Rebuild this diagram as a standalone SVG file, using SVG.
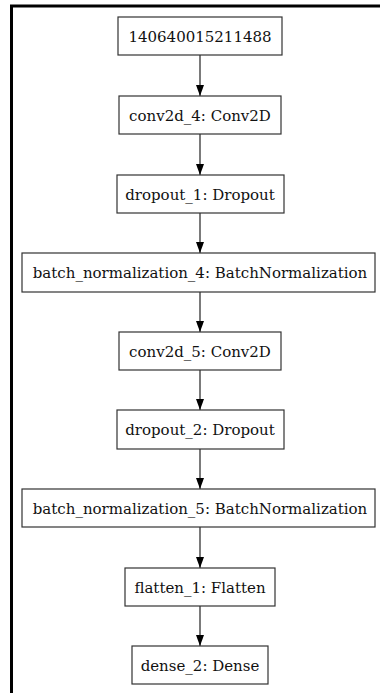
<svg xmlns="http://www.w3.org/2000/svg" width="380" height="693" viewBox="0 0 380 693">
<defs>
<marker id="ah" markerWidth="11" markerHeight="10" refX="11" refY="5" orient="auto" markerUnits="userSpaceOnUse">
<path d="M0,1 L11,5 L0,9 Z" fill="#000"/>
</marker>
<style>
.box{fill:#fff;stroke:#333;stroke-width:1.2}
.lbl{font-family:"DejaVu Serif","Liberation Serif",serif;font-size:15px;fill:#111;text-anchor:middle}
.edge{stroke:#222;stroke-width:1.2;fill:none;marker-end:url(#ah)}
</style>
</defs>
<rect width="380" height="693" fill="#fff"/>
<path d="M11.5,693 V6 H380" fill="none" stroke="#000" stroke-width="3"/>
<g id="connectors">
<line class="edge" x1="200" y1="55" x2="200" y2="96"/>
<line class="edge" x1="200" y1="134" x2="200" y2="175"/>
<line class="edge" x1="200" y1="213" x2="200" y2="253"/>
<line class="edge" x1="200" y1="292" x2="200" y2="332"/>
<line class="edge" x1="200" y1="370" x2="200" y2="410"/>
<line class="edge" x1="200" y1="449" x2="200" y2="489"/>
<line class="edge" x1="200" y1="527" x2="200" y2="568"/>
<line class="edge" x1="200" y1="606" x2="200" y2="646"/>
</g>
<g id="n140640015211488"><rect class="box" x="118" y="17" width="164" height="38"/><text class="lbl" x="200" y="41.5">140640015211488</text></g>
<g id="conv2d_4"><rect class="box" x="119" y="96" width="162" height="38"/><text class="lbl" x="200" y="120.5">conv2d_4: Conv2D</text></g>
<g id="dropout_1"><rect class="box" x="117" y="175" width="167" height="38"/><text class="lbl" x="200" y="199.5">dropout_1: Dropout</text></g>
<g id="batch_normalization_4"><rect class="box" x="22" y="253" width="353" height="39"/><text class="lbl" x="200" y="277.5">batch_normalization_4: BatchNormalization</text></g>
<g id="conv2d_5"><rect class="box" x="119" y="332" width="162" height="38"/><text class="lbl" x="200" y="356.5">conv2d_5: Conv2D</text></g>
<g id="dropout_2"><rect class="box" x="117" y="410" width="167" height="39"/><text class="lbl" x="200" y="434.5">dropout_2: Dropout</text></g>
<g id="batch_normalization_5"><rect class="box" x="22" y="489" width="353" height="38"/><text class="lbl" x="200" y="513.5">batch_normalization_5: BatchNormalization</text></g>
<g id="flatten_1"><rect class="box" x="125" y="568" width="150" height="38"/><text class="lbl" x="200" y="592.5">flatten_1: Flatten</text></g>
<g id="dense_2"><rect class="box" x="132" y="646" width="136" height="38"/><text class="lbl" x="200" y="670.5">dense_2: Dense</text></g>
</svg>
